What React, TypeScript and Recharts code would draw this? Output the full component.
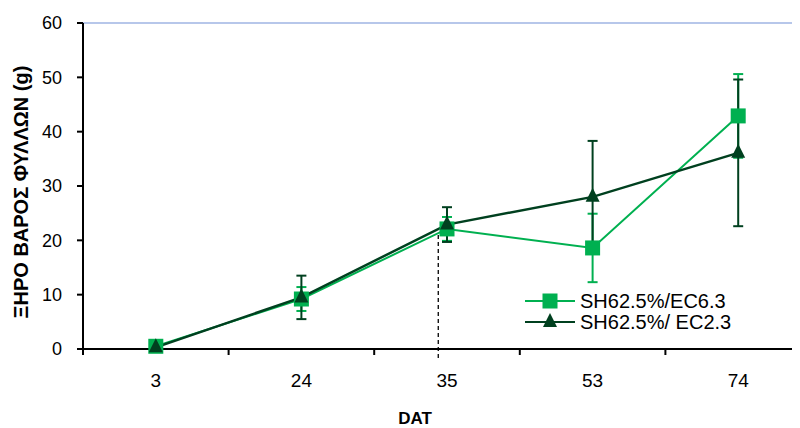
import {
  LineChart,
  Line,
  XAxis,
  YAxis,
  ErrorBar,
  ReferenceLine,
  Legend,
} from "recharts";

const days = ["3", "24", "35", "53", "74"];
const ec63 = [0.5, 9.2, 22.1, 18.6, 42.9];
const ec63Err = [0.3, 2.2, 2.2, 6.3, 7.7];
const ec23 = [0.3, 9.5, 22.9, 28.0, 36.1];
const ec23Err = [0.2, 4.0, 3.2, 10.3, 13.5];
const yTicks = [0, 10, 20, 30, 40, 50, 60];

const LIGHT = "#00B050";
const DARK = "#00401F";
const FONT = "'Liberation Sans', Arial, sans-serif";

const data = days.map((d, i) => ({
  idx: i,
  day: d,
  ec63: ec63[i],
  ec63Err: ec63Err[i],
  ec23: ec23[i],
  ec23Err: ec23Err[i],
}));

// labels on whole indices, tick marks between categories
const xTicks: number[] = [-0.5];
days.forEach((_, i) => xTicks.push(i, i + 0.5));

function XTick({ x, y, payload }: any) {
  const v = payload.value;
  if (Number.isInteger(v)) {
    return (
      <text x={x} y={y + 38} textAnchor="middle" fontSize={19} fill="#000" fontFamily={FONT}>
        {days[v]}
      </text>
    );
  }
  return <line x1={x} x2={x} y1={y} y2={y + 6} stroke="#000" strokeWidth={2} />;
}

function Square({ cx, cy }: any) {
  if (cx == null || cy == null) return null;
  return <rect x={cx - 7.5} y={cy - 7.5} width={15} height={15} fill={LIGHT} />;
}

function Triangle({ cx, cy }: any) {
  if (cx == null || cy == null) return null;
  return <path d={`M${cx},${cy - 9}L${cx - 7},${cy + 5}L${cx + 7},${cy + 5}Z`} fill={DARK} />;
}

function LegendBox() {
  const rows = [
    { name: "SH62.5%/EC6.3", color: LIGHT, shape: "square" },
    { name: "SH62.5%/ EC2.3", color: DARK, shape: "triangle" },
  ];
  return (
    <svg width={240} height={50} style={{ display: "block" }}>
      {rows.map((r, i) => {
        const cy = 13 + i * 21;
        return (
          <g key={r.name}>
            <line x1={0} x2={50} y1={cy} y2={cy} stroke={r.color} strokeWidth={2} />
            {r.shape === "square" ? <Square cx={25} cy={cy} /> : <Triangle cx={25} cy={cy} />}
            <text x={55} y={cy + 7} fontSize={20} fill="#000" fontFamily={FONT}>
              {r.name}
            </text>
          </g>
        );
      })}
    </svg>
  );
}

export default function App() {
  return (
    <div style={{ width: 792, height: 420, overflow: "hidden", position: "relative" }}>
      <LineChart
        width={820}
        height={428}
        data={data}
        margin={{ top: 15, right: 17, left: 0, bottom: 17 }}
        style={{ fontFamily: FONT }}
      >
        <ReferenceLine y={60} stroke="#9FB5E3" strokeWidth={1.5} ifOverflow="visible" />
        <XAxis
          dataKey="idx"
          type="number"
          domain={[-0.5, days.length - 0.5]}
          ticks={xTicks}
          interval={0}
          tickLine={false}
          tickSize={0}
          tickMargin={0}
          tick={<XTick />}
          height={70}
          axisLine={{ stroke: "#000", strokeWidth: 2 }}
          label={{
            value: "DAT",
            content: () => (
              <text x={407} y={416} textAnchor="middle" fontSize={17} fontWeight="bold" fill="#000" fontFamily={FONT}>
                DAT
              </text>
            ),
          }}
        />
        <YAxis
          domain={[0, 60]}
          ticks={yTicks}
          width={75}
          tickSize={6}
          tickMargin={15}
          tick={{ fill: "#000", fontSize: 18, fontFamily: FONT }}
          axisLine={{ stroke: "#000", strokeWidth: 2 }}
          tickLine={{ stroke: "#000", strokeWidth: 2 }}
          label={{
            value: "ΞΗΡΟ ΒΑΡΟΣ ΦΥΛΛΩΝ (g)",
            content: () => (
              <text
                x={13}
                y={184}
                transform="rotate(-90 13 184)"
                textAnchor="middle"
                dominantBaseline="central"
                fontSize={20}
                fontWeight="bold"
                fill="#000"
                fontFamily={FONT}
              >
                ΞΗΡΟ ΒΑΡΟΣ ΦΥΛΛΩΝ (g)
              </text>
            ),
          }}
        />
        <ReferenceLine
          segment={[
            { x: 1.94, y: 21 },
            { x: 1.94, y: -2.2 },
          ]}
          stroke="#000"
          strokeWidth={1.3}
          strokeDasharray="4 3"
          ifOverflow="visible"
        />
        <Line
          dataKey="ec63"
          name="SH62.5%/EC6.3"
          stroke={LIGHT}
          strokeWidth={2}
          dot={<Square />}
          activeDot={false}
          isAnimationActive={false}
        >
          <ErrorBar dataKey="ec63Err" direction="y" width={5} stroke={LIGHT} strokeWidth={2} />
        </Line>
        <Line
          dataKey="ec23"
          name="SH62.5%/ EC2.3"
          stroke={DARK}
          strokeWidth={2.5}
          dot={<Triangle />}
          activeDot={false}
          isAnimationActive={false}
        >
          <ErrorBar dataKey="ec23Err" direction="y" width={5} stroke={DARK} strokeWidth={2} />
        </Line>
        <Legend
          layout="vertical"
          align="center"
          verticalAlign="middle"
          content={() => <LegendBox />}
          wrapperStyle={{ left: 517, top: 280, width: 240 }}
        />
      </LineChart>
    </div>
  );
}
